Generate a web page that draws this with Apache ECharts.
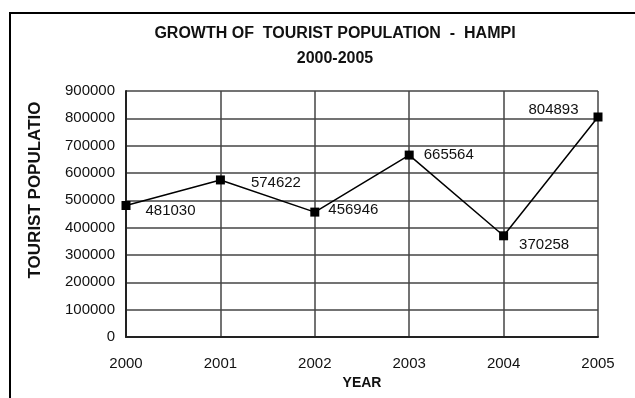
<!DOCTYPE html>
<html>
<head>
<meta charset="utf-8">
<script src="https://cdn.jsdelivr.net/npm/echarts@6/dist/echarts.min.js"></script>
<style>
html,body{margin:0;padding:0;background:#fff;}
#main{width:635px;height:398px;}
</style>
</head>
<body>
<div id="main"></div>
<script>
//数据
var years=['2000','2001','2002','2003','2004','2005'];
var tourists=[481030,574622,456946,665564,370258,804893];
//标签位置（每个点）
var labelPos=['right','right','right','right','right','left'];
var labelOffset=[[10,5],[21,3],[4,-2],[5,0],[6,9],[-10,-7]];

var font='"Liberation Sans", Arial, sans-serif';

var points=[];
for(var i=0;i<tourists.length;i++){
	points.push({
		value:tourists[i],
		label:{position:labelPos[i],offset:labelOffset[i]}
	});
}

var myChart=echarts.init(document.getElementById('main'));
option={
	animation:false,
	backgroundColor:'#fff',
	title:{
		text:'GROWTH OF  TOURIST POPULATION  -  HAMPI\n2000-2005',
		left:330,
		top:16,
		textAlign:'center',
		textStyle:{fontFamily:font,fontSize:16,fontWeight:'bold',color:'#111',lineHeight:25}
	},
	grid:{left:126,right:37,top:91,bottom:61,containLabel:false},
	xAxis:{
		type:'category',
		data:years,
		boundaryGap:false,
		name:'YEAR',
		nameLocation:'middle',
		nameGap:39,
		nameTextStyle:{fontFamily:font,fontSize:14,fontWeight:'bold',color:'#111'},
		axisLine:{lineStyle:{color:'#222',width:2}},
		axisTick:{show:false},
		axisLabel:{fontFamily:font,fontSize:15,color:'#111',margin:19},
		splitLine:{show:true,lineStyle:{color:'#444',width:1.5}}
	},
	yAxis:{
		type:'value',
		min:0,
		max:900000,
		interval:100000,
		axisLine:{show:true,lineStyle:{color:'#222',width:2}},
		axisTick:{show:false},
		axisLabel:{
			fontFamily:font,fontSize:15,color:'#111',margin:11,
			formatter:function(v){return String(v);}
		},
		splitLine:{show:true,lineStyle:{color:'#444',width:1.5}}
	},
	graphic:[
		{
			type:'polyline',
			shape:{points:[[10,398],[10,13],[635,13]]},
			style:{stroke:'#000',lineWidth:2,fill:null}
		},
		{
			type:'text',
			x:35,
			y:190,
			rotation:Math.PI/2,
			style:{
				text:'TOURIST POPULATIO',
				font:'bold 17px '+font,
				fill:'#111',
				align:'center',
				verticalAlign:'middle'
			}
		}
	],
	series:[
		{
			type:'line',
			data:points,
			symbol:'rect',
			symbolSize:9,
			itemStyle:{color:'#000'},
			lineStyle:{color:'#000',width:1.5},
			label:{
				show:true,
				fontFamily:font,
				fontSize:15,
				color:'#111'
			}
		}
	]
};
myChart.setOption(option);
</script>
</body>
</html>
